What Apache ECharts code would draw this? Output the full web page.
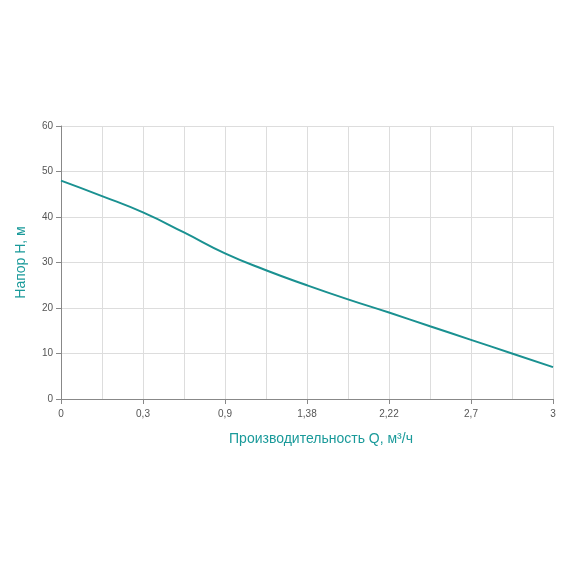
<!DOCTYPE html>
<html><head><meta charset="utf-8">
<script src="https://cdn.jsdelivr.net/npm/echarts@6/dist/echarts.min.js"></script>
<style>html,body{margin:0;padding:0;background:#fff}#c{width:570px;height:570px}</style>
</head><body><div id="c"></div>
<script>
const categories = ['0','0,15','0,3','0,6','0,9','1,14','1,38','1,8','2,22','2,46','2,7','2,85','3'];
const head = [48, 44.6, 41, 36.6, 32, 28.3, 25, 21.9, 19, 16, 13, 10, 7];
const chart = echarts.init(document.getElementById('c'));
chart.setOption({
  animation: false,
  grid: {left: 61, right: 17, top: 126, bottom: 171},
  xAxis: {
    type: 'category', data: categories, boundaryGap: false,
    name: 'Производительность Q, м³/ч', nameLocation: 'middle', nameGap: 33,
    nameTextStyle: {color: '#1a9a9a', fontSize: 14, fontFamily: 'Liberation Sans', padding: [0, 0, 0, 28]},
    axisLine: {lineStyle: {color: '#888'}}, axisTick: {show: true, interval: 1, lineStyle: {color: '#888'}},
    axisLabel: {interval: 1, color: '#555', fontSize: 10, margin: 10, fontFamily: 'Liberation Sans'},
    splitLine: {show: true, interval: 0, lineStyle: {color: '#ddd'}}
  },
  yAxis: {
    type: 'value', min: 0, max: 60, interval: 10,
    name: 'Напор H, м', nameLocation: 'middle', nameGap: 33,
    nameTextStyle: {color: '#1a9a9a', fontSize: 14, fontFamily: 'Liberation Sans'},
    axisLine: {show: true, lineStyle: {color: '#888'}}, axisTick: {show: true, lineStyle: {color: '#888'}},
    axisLabel: {color: '#555', fontSize: 10, fontFamily: 'Liberation Sans'},
    splitLine: {lineStyle: {color: '#ddd'}}
  },
  series: [{type: 'line', data: head, smooth: true, showSymbol: false,
    lineStyle: {color: '#1a9191', width: 2}}]
});
</script></body></html>
